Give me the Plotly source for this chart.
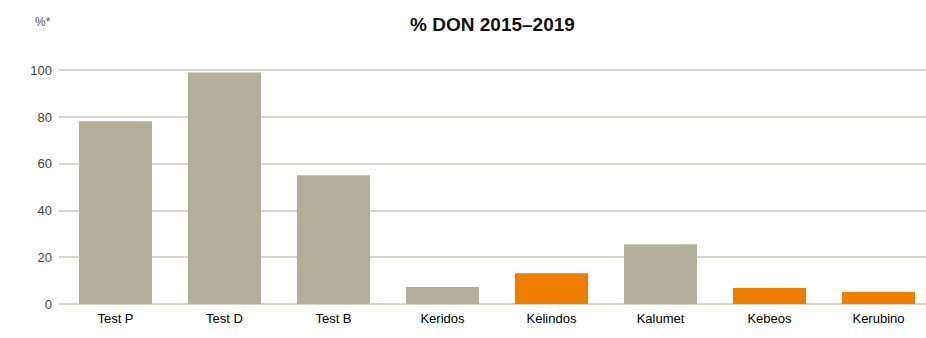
import plotly.graph_objects as go

categories = ["Test P", "Test D", "Test B", "Keridos", "Kelindos", "Kalumet", "Kebeos", "Kerubino"]
values = [78.2, 99.1, 55.1, 7.3, 13.2, 25.6, 6.8, 5.1]
highlight = [False, False, False, False, True, False, True, True]
y_ticks = [0, 20, 40, 60, 80, 100]

GRAY = "#b2b09a"
ORANGE = "#ef7d00"
GRID = "#d8d5ca"

colors = [ORANGE if h else GRAY for h in highlight]

fig = go.Figure(go.Bar(x=categories, y=values, marker=dict(color=colors, line=dict(width=0)), width=0.67))

fig.update_layout(
    width=926, height=338,
    margin=dict(l=59, r=0, t=68, b=34),
    paper_bgcolor="white", plot_bgcolor="white",
    font=dict(family="Liberation Sans, Arial, sans-serif", size=13, color="#222"),
    showlegend=False,
    title=dict(text="<b>% DON 2015\u20132019</b>", x=0.5, xref="paper", xanchor="center",
               y=1 - 24 / 338, yanchor="middle", font=dict(size=19, color="#111")),
    annotations=[dict(text="%*", xref="paper", yref="paper", x=0, y=1, xanchor="right", yanchor="middle",
                      xshift=-6, yshift=46, showarrow=False, font=dict(size=12, color="#555"))],
)
fig.update_xaxes(range=[-0.518, 7.436], showgrid=False, showline=False, zeroline=False,
                 ticks="", ticklabelstandoff=5, tickfont=dict(size=13, color="#000"))
fig.update_yaxes(range=[0, 101], tickvals=y_ticks, showgrid=True, gridcolor=GRID, gridwidth=1.5,
                 zeroline=True, zerolinecolor=GRID, zerolinewidth=1.5, showline=False,
                 ticks="", ticklabelstandoff=6, tickfont=dict(size=13, color="#444"))

fig.write_html("out.html")
